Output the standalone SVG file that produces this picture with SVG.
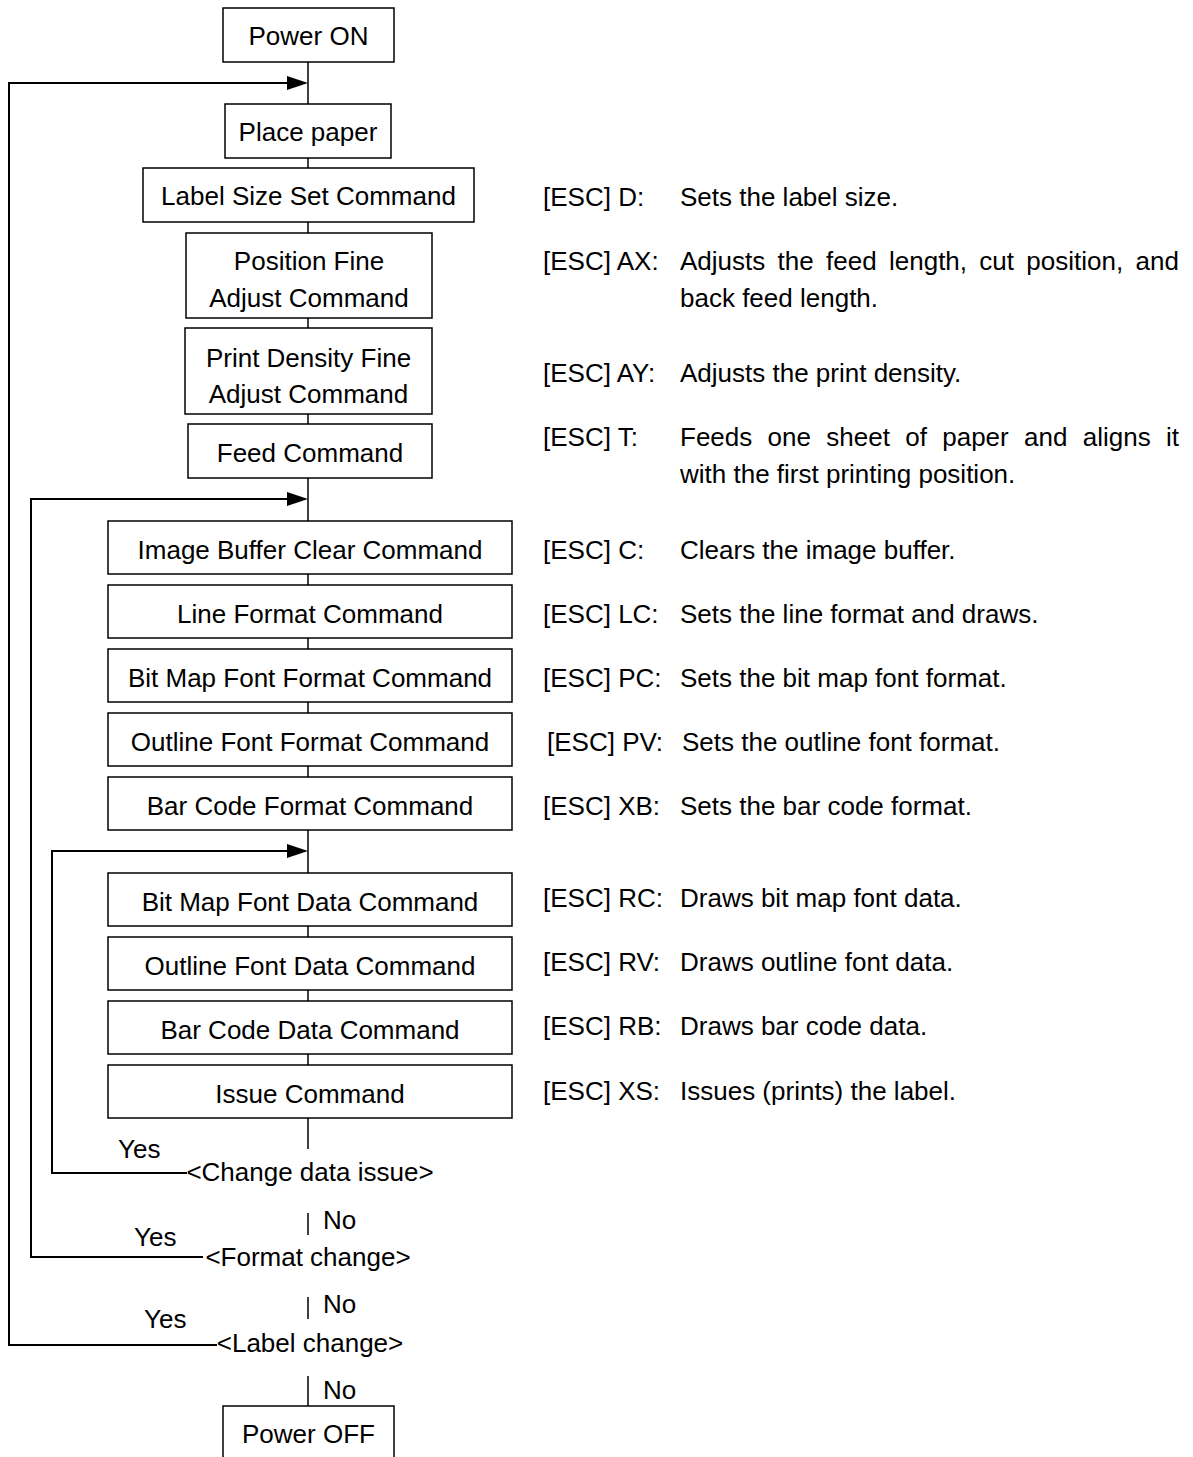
<svg xmlns="http://www.w3.org/2000/svg" width="1193" height="1457" viewBox="0 0 1193 1457">
<style>
  text { font-family: "Liberation Sans", Arial, sans-serif; font-size: 26px; fill: #000; }
  .box { fill: #fff; stroke: #000; stroke-width: 1.5; }
  .c { text-anchor: middle; }
  .ln { stroke: #000; stroke-width: 1.5; fill: none; }
  .loop { stroke: #000; stroke-width: 2; fill: none; }
  .ah { fill: #000; stroke: none; }
</style>
<rect width="1193" height="1457" fill="#fff"/>

<g id="connectors">
  <path class="ln" d="M308 62V104 M308 158V168 M308 222V233 M308 318V328 M308 414V424 M308 478V521 M308 574V585 M308 638V649 M308 702V713 M308 766V777 M308 830V873 M308 926V937 M308 990V1001 M308 1054V1065 M308 1118V1149 M308 1213V1235 M308 1297V1319 M308 1376V1406"/>
  <path class="loop" d="M217 1345H9V83H290"/>
  <path class="loop" d="M203 1257H31V499H290"/>
  <path class="loop" d="M187 1173H52V851H290"/>
  <polygon class="ah" points="287,76 308,83 287,90"/>
  <polygon class="ah" points="287,492 308,499 287,506"/>
  <polygon class="ah" points="287,844 308,851 287,858"/>
</g>

<g id="power-on"><rect class="box" x="223" y="8" width="171" height="54"/><text class="c" x="308.5" y="45">Power ON</text></g>
<g id="place-paper"><rect class="box" x="225" y="104" width="166" height="54"/><text class="c" x="308" y="141">Place paper</text></g>
<g id="label-size"><rect class="box" x="143" y="168" width="331" height="54"/><text class="c" x="308.5" y="205">Label Size Set Command</text></g>
<g id="position-fine"><rect class="box" x="186" y="233" width="246" height="85"/><text class="c" x="309" y="270">Position Fine</text><text class="c" x="309" y="307">Adjust Command</text></g>
<g id="print-density"><rect class="box" x="185" y="328" width="247" height="86"/><text class="c" x="308.5" y="367">Print Density Fine</text><text class="c" x="308.5" y="403">Adjust Command</text></g>
<g id="feed"><rect class="box" x="188" y="424" width="244" height="54"/><text class="c" x="310" y="462">Feed Command</text></g>
<g id="image-buffer-clear"><rect class="box" x="108" y="521" width="404" height="53"/><text class="c" x="310" y="559">Image Buffer Clear Command</text></g>
<g id="line-format"><rect class="box" x="108" y="585" width="404" height="53"/><text class="c" x="310" y="623">Line Format Command</text></g>
<g id="bitmap-font-format"><rect class="box" x="108" y="649" width="404" height="53"/><text class="c" x="310" y="687">Bit Map Font Format Command</text></g>
<g id="outline-font-format"><rect class="box" x="108" y="713" width="404" height="53"/><text class="c" x="310" y="751">Outline Font Format Command</text></g>
<g id="barcode-format"><rect class="box" x="108" y="777" width="404" height="53"/><text class="c" x="310" y="815">Bar Code Format Command</text></g>
<g id="bitmap-font-data"><rect class="box" x="108" y="873" width="404" height="53"/><text class="c" x="310" y="911">Bit Map Font Data Command</text></g>
<g id="outline-font-data"><rect class="box" x="108" y="937" width="404" height="53"/><text class="c" x="310" y="975">Outline Font Data Command</text></g>
<g id="barcode-data"><rect class="box" x="108" y="1001" width="404" height="53"/><text class="c" x="310" y="1039">Bar Code Data Command</text></g>
<g id="issue"><rect class="box" x="108" y="1065" width="404" height="53"/><text class="c" x="310" y="1103">Issue Command</text></g>

<g id="change-data-issue"><text class="c" x="310" y="1181">&lt;Change data issue&gt;</text><text x="118" y="1158">Yes</text><text x="323" y="1229">No</text></g>
<g id="format-change"><text class="c" x="308" y="1266">&lt;Format change&gt;</text><text x="134" y="1246">Yes</text><text x="323" y="1313">No</text></g>
<g id="label-change"><text class="c" x="310" y="1352">&lt;Label change&gt;</text><text x="144" y="1328">Yes</text><text x="323" y="1399">No</text></g>
<g id="power-off"><rect class="box" x="223" y="1406" width="171" height="56"/><text class="c" x="308.5" y="1443">Power OFF</text></g>

<g id="descriptions">
  <text x="543" y="206">[ESC] D:</text><text x="680" y="206">Sets the label size.</text>
  <text x="543" y="270">[ESC] AX:</text><text x="680" y="270" word-spacing="5.1">Adjusts the feed length, cut position, and</text>
  <text x="680" y="307">back feed length.</text>
  <text x="543" y="382">[ESC] AY:</text><text x="680" y="382">Adjusts the print density.</text>
  <text x="543" y="446">[ESC] T:</text><text x="680" y="446" word-spacing="8.1">Feeds one sheet of paper and aligns it</text>
  <text x="680" y="483">with the first printing position.</text>
  <text x="543" y="559">[ESC] C:</text><text x="680" y="559">Clears the image buffer.</text>
  <text x="543" y="623">[ESC] LC:</text><text x="680" y="623">Sets the line format and draws.</text>
  <text x="543" y="687">[ESC] PC:</text><text x="680" y="687">Sets the bit map font format.</text>
  <text x="547" y="751">[ESC] PV:</text><text x="682" y="751">Sets the outline font format.</text>
  <text x="543" y="815">[ESC] XB:</text><text x="680" y="815">Sets the bar code format.</text>
  <text x="543" y="907">[ESC] RC:</text><text x="680" y="907">Draws bit map font data.</text>
  <text x="543" y="971">[ESC] RV:</text><text x="680" y="971">Draws outline font data.</text>
  <text x="543" y="1035">[ESC] RB:</text><text x="680" y="1035">Draws bar code data.</text>
  <text x="543" y="1100">[ESC] XS:</text><text x="680" y="1100">Issues (prints) the label.</text>
</g>
</svg>
